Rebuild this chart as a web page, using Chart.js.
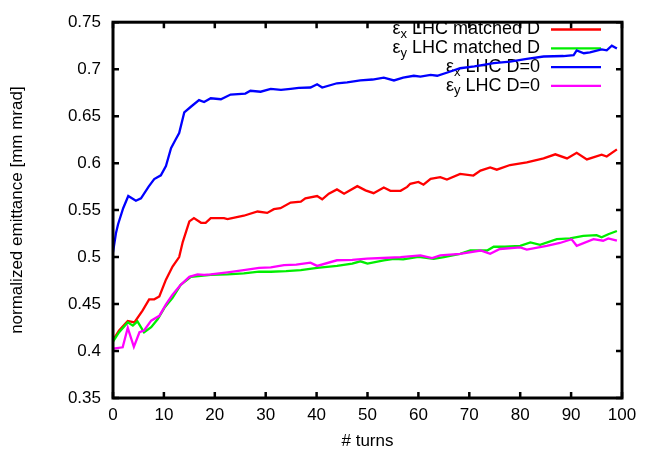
<!DOCTYPE html>
<html>
<head>
<meta charset="utf-8">
<script src="https://cdn.jsdelivr.net/npm/chart.js@4/dist/chart.umd.min.js"></script>
<style>
  html, body { margin: 0; padding: 0; background: #fff; }
  #wrap { width: 646px; height: 453px; }
</style>
</head>
<body>
<div id="wrap"><canvas id="c" width="646" height="453"></canvas></div>
<script>
// ---- data ----
const xTicks = [0, 10, 20, 30, 40, 50, 60, 70, 80, 90, 100];
const yTicks = [0.35, 0.4, 0.45, 0.5, 0.55, 0.6, 0.65, 0.7, 0.75];

const legendLabels = ["LHC matched D", "LHC matched D", "LHC D=0", "LHC D=0"];
const legendSubs = ["x", "y", "x", "y"];

// eps_x LHC matched D (red)
const redTurns = [0, 1.2, 2.9, 4.2, 5.8, 7.1, 8.1, 9.1, 10.4, 11.7, 13, 13.7, 15, 15.9, 17.3, 18.2, 19.2, 21.8, 22.5, 25.7, 28.4, 30.3, 31.6, 32.9, 34.9, 36.9, 37.8, 40.1, 41.1, 42.4, 44, 45.4, 48, 49.6, 51.2, 53.2, 54.5, 56.5, 57.8, 58.4, 60, 61, 62.4, 64.3, 65.6, 68.2, 70.8, 72.2, 74.1, 75.4, 78, 81.3, 84.6, 86.9, 89.2, 91.1, 93.1, 96, 97, 99];
const redVals = [0.4115, 0.422, 0.432, 0.4305, 0.443, 0.455, 0.455, 0.458, 0.476, 0.490, 0.500, 0.516, 0.538, 0.5415, 0.5365, 0.5365, 0.5415, 0.5415, 0.5405, 0.544, 0.5485, 0.547, 0.551, 0.552, 0.558, 0.559, 0.5625, 0.565, 0.5615, 0.5675, 0.572, 0.5675, 0.5755, 0.571, 0.568, 0.574, 0.5705, 0.5705, 0.5747, 0.578, 0.580, 0.577, 0.5833, 0.585, 0.5826, 0.5885, 0.5868, 0.592, 0.5955, 0.593, 0.598, 0.6007, 0.605, 0.6094, 0.605, 0.611, 0.604, 0.609, 0.607, 0.6146];

// eps_y LHC matched D (green)
const greenTurns = [0, 1.2, 2.9, 3.9, 4.8, 6.1, 7.5, 8.8, 10.1, 11.7, 13.3, 15.3, 17.3, 19.2, 22.5, 25.7, 28.7, 31, 34, 36.9, 40.1, 44, 47, 48.6, 50, 53.2, 55.2, 57, 59.7, 60.4, 63, 65, 68.2, 70.2, 73.5, 74.8, 77, 80, 82, 83.9, 87.2, 89.8, 92.4, 95, 96, 97.3, 99];
const greenVals = [0.410, 0.420, 0.4305, 0.427, 0.4316, 0.420, 0.4253, 0.434, 0.446, 0.4565, 0.4705, 0.479, 0.480, 0.481, 0.4816, 0.4826, 0.4844, 0.4844, 0.485, 0.486, 0.4885, 0.4906, 0.493, 0.4955, 0.493, 0.4966, 0.498, 0.4975, 0.500, 0.500, 0.498, 0.500, 0.5035, 0.507, 0.507, 0.511, 0.511, 0.512, 0.5156, 0.513, 0.519, 0.5198, 0.5226, 0.5233, 0.521, 0.5243, 0.5278];

// eps_x LHC D=0 (blue)
const blueTurns = [0, 0.6, 1, 2, 3, 4.5, 5.5, 7, 8.1, 9.4, 10.4, 11.4, 12.2, 13, 14, 15.3, 16.9, 17.9, 19.2, 21.2, 23.1, 26, 27, 29, 31, 33, 34.9, 36.5, 38.8, 40.1, 41.1, 44, 46, 48.6, 51, 53.2, 55.2, 57, 59.1, 60.4, 62.4, 63.7, 66, 68.2, 71, 74.8, 78, 81.3, 84.6, 88.5, 90.5, 91.1, 92.5, 93.7, 96, 97, 98, 99];
const blueVals = [0.505, 0.526, 0.535, 0.552, 0.565, 0.560, 0.5625, 0.575, 0.583, 0.587, 0.597, 0.616, 0.624, 0.632, 0.654, 0.660, 0.667, 0.665, 0.669, 0.668, 0.673, 0.674, 0.677, 0.676, 0.679, 0.678, 0.679, 0.680, 0.6805, 0.684, 0.6805, 0.685, 0.686, 0.688, 0.689, 0.691, 0.688, 0.691, 0.693, 0.692, 0.694, 0.693, 0.697, 0.701, 0.703, 0.7065, 0.708, 0.711, 0.7135, 0.714, 0.715, 0.720, 0.717, 0.718, 0.721, 0.720, 0.725, 0.722];

// eps_y LHC D=0 (magenta)
const magentaTurns = [0, 1.9, 2.9, 4.1, 5.2, 6.1, 7.5, 9.1, 10.4, 11.7, 13.3, 15, 16.6, 17.9, 19.2, 22.5, 25.7, 28.7, 31, 33.6, 36, 38.8, 40.1, 44, 47, 49.9, 53, 56.5, 60.4, 62.7, 64.3, 68.2, 72.2, 74.1, 76, 80, 81.3, 85.2, 87.8, 90.1, 91.1, 94.4, 96.3, 97.3, 99];
const magentaVals = [0.4025, 0.404, 0.4247, 0.4045, 0.420, 0.4219, 0.4323, 0.4375, 0.4497, 0.460, 0.4705, 0.479, 0.4816, 0.481, 0.4816, 0.4837, 0.486, 0.4885, 0.489, 0.4914, 0.492, 0.494, 0.4906, 0.4966, 0.497, 0.4983, 0.499, 0.500, 0.5017, 0.499, 0.5017, 0.5035, 0.507, 0.5035, 0.5086, 0.5104, 0.508, 0.512, 0.515, 0.519, 0.512, 0.519, 0.5174, 0.5198, 0.5174];

const FONT = "'Liberation Sans', Arial, Helvetica, sans-serif";

function pts(ts, vs) { return ts.map((t, i) => ({ x: t, y: vs[i] })); }

const colors = ['#ff0000', '#00ee00', '#0000ff', '#ff00ff'];

const bgPlugin = {
  id: 'bg',
  beforeDraw(chart) {
    const ctx = chart.ctx;
    ctx.save();
    ctx.fillStyle = '#fff';
    ctx.fillRect(0, 0, chart.width, chart.height);
    ctx.restore();
  }
};

const legendPlugin = {
  id: 'gpLegend',
  beforeDatasetsDraw(chart) {
    const ctx = chart.ctx;
    ctx.save();
    const textRight = 540;
    const lineX0 = 551, lineX1 = 601;
    chart.data.datasets.forEach((ds, i) => {
      const y = 29.5 + i * 18.8;
      ctx.fillStyle = '#000';
      ctx.textBaseline = 'middle';
      ctx.textAlign = 'right';
      ctx.font = '18px ' + FONT;
      const main = ' ' + legendLabels[i];
      ctx.fillText(main, textRight, y);
      const wMain = ctx.measureText(main).width;
      ctx.font = '13px ' + FONT;
      const sub = legendSubs[i];
      const xSub = textRight - wMain;
      ctx.fillText(sub, xSub, y + 5);
      const wSub = ctx.measureText(sub).width;
      ctx.font = '18px ' + FONT;
      ctx.fillText('\u03b5', xSub - wSub, y);
      ctx.strokeStyle = ds.borderColor;
      ctx.lineWidth = 2.3;
      ctx.beginPath();
      ctx.moveTo(lineX0, y);
      ctx.lineTo(lineX1, y);
      ctx.stroke();
    });
    ctx.restore();
  }
};

const framePlugin = {
  id: 'frame',
  afterDatasetsDraw(chart) {
    const ctx = chart.ctx;
    const a = chart.chartArea;
    const xs = chart.scales.x, ys = chart.scales.y;
    ctx.save();
    ctx.strokeStyle = '#000';
    ctx.lineWidth = 2.5;
    const tl = 6;
    ctx.beginPath();
    xTicks.forEach(v => {
      const px = xs.getPixelForValue(v);
      ctx.moveTo(px, a.bottom); ctx.lineTo(px, a.bottom - tl);
      ctx.moveTo(px, a.top); ctx.lineTo(px, a.top + tl);
    });
    yTicks.forEach(v => {
      const py = ys.getPixelForValue(v);
      ctx.moveTo(a.left, py); ctx.lineTo(a.left + tl, py);
      ctx.moveTo(a.right, py); ctx.lineTo(a.right - tl, py);
    });
    ctx.stroke();
    ctx.lineWidth = 3;
    ctx.strokeRect(a.left, a.top, a.right - a.left, a.bottom - a.top);
    ctx.restore();
  }
};

new Chart(document.getElementById('c'), {
  type: 'line',
  data: {
    datasets: [
      { label: 'εx LHC matched D', data: pts(redTurns, redVals), borderColor: colors[0], order: 4 },
      { label: 'εy LHC matched D', data: pts(greenTurns, greenVals), borderColor: colors[1], order: 3 },
      { label: 'εx LHC D=0', data: pts(blueTurns, blueVals), borderColor: colors[2], order: 2 },
      { label: 'εy LHC D=0', data: pts(magentaTurns, magentaVals), borderColor: colors[3], order: 1 }
    ]
  },
  options: {
    responsive: false,
    animation: false,
    devicePixelRatio: 1,
    layout: { padding: { left: 0, top: 15, right: 24, bottom: 0 } },
    elements: {
      point: { radius: 0 },
      line: { borderWidth: 2.3, tension: 0, fill: false }
    },
    plugins: {
      legend: { display: false },
      tooltip: { enabled: false }
    },
    scales: {
      x: {
        type: 'linear',
        min: 0, max: 100,
        afterBuildTicks(scale) { scale.ticks = xTicks.map(v => ({ value: v })); },
        afterFit(scale) { scale.height = 55; },
        grid: { display: false, drawTicks: false },
        border: { display: false },
        ticks: { color: '#000', font: { family: FONT, size: 17 }, padding: 7, maxRotation: 0, autoSkip: false },
        title: { display: true, text: '# turns', color: '#000', font: { family: FONT, size: 17 }, padding: { top: 0, bottom: 1 } }
      },
      y: {
        type: 'linear',
        min: 0.35, max: 0.75,
        afterBuildTicks(scale) { scale.ticks = yTicks.map(v => ({ value: v })); },
        afterFit(scale) { scale.width = 113; },
        grid: { display: false, drawTicks: false },
        border: { display: false },
        ticks: {
          color: '#000', font: { family: FONT, size: 17 }, padding: 12, autoSkip: false,
          callback: v => String(Number(v.toFixed(2)))
        },
        title: { display: true, text: 'normalized emittance [mm mrad]', color: '#000', font: { family: FONT, size: 17 }, padding: { top: 7, bottom: 0 } }
      }
    }
  },
  plugins: [bgPlugin, legendPlugin, framePlugin]
});
</script>
</body>
</html>
